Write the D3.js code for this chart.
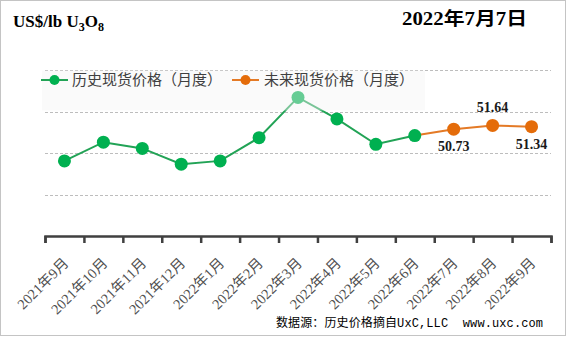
<!DOCTYPE html>
<html>
<head>
<meta charset="utf-8">
<script src="https://cdn.jsdelivr.net/npm/d3@7"></script>
<style>
  html, body { margin: 0; padding: 0; background: #fff; }
  svg { display: block; }
</style>
</head>
<body>
<svg id="chart" width="567" height="337"></svg>
<script>
// months on the x axis
const months = ["2021年9月", "2021年10月", "2021年11月", "2021年12月", "2022年1月", "2022年2月",
    "2022年3月", "2022年4月", "2022年5月", "2022年6月", "2022年7月", "2022年8月", "2022年9月"];

// historical monthly spot (US$/lb)
const histValues = [43.1, 47.6, 46.1, 42.3, 43.1, 48.7, 58.4, 53.2, 47.1, 49.2];
// future monthly spot
const futValues = [50.73, 51.64, 51.34];
// where each future label sits
const futLabelPos = ["below", "above", "below"];

const yTicks = [25, 35, 45, 55, 65];
const legendNames = ["历史现货价格（月度）", "未来现货价格（月度）"];

const green = "#00b050";
const greenLine = "#22a356";
const orange = "#e46c0a";
const orangeLine = "#e47a26";

const svg = d3.select("#chart");
const W = 567, H = 337;

const marginLeft = 45;
const marginRight = 16;
const plotTop = 70;
const plotBottom = 236;

const x = d3.scaleBand()
    .domain(months)
    .range([marginLeft, W - marginRight])
    .padding(0);

const y = d3.scaleLinear()
    .domain([d3.min(yTicks), d3.max(yTicks)])
    .range([plotBottom, plotTop]);

// boundary ticks: linear scale over the band index
const xi = d3.scaleLinear()
    .domain([0, months.length])
    .range([marginLeft, W - marginRight]);

// border
svg.append("rect")
    .attr("x", 0.5).attr("y", 0.5)
    .attr("width", W - 2).attr("height", H - 2)
    .attr("fill", "#fff")
    .attr("stroke", "#c4c4c4");

// gridlines
svg.append("g")
    .selectAll("line")
    .data(yTicks.slice(1))
    .join("line")
    .attr("x1", marginLeft)
    .attr("x2", W - marginRight)
    .attr("y1", d => Math.round(y(d)) + 0.5)
    .attr("y2", d => Math.round(y(d)) + 0.5)
    .attr("stroke", "#bdbdbd")
    .attr("stroke-width", 1)
    .attr("stroke-dasharray", "3,2");

// series
const histData = histValues.map((v, i) => ({m: months[i], v: v}));
const futData = futValues.map((v, i) => ({m: months[histValues.length + i], v: v}));
const futLine = [histData[histData.length - 1]].concat(futData);

const line = d3.line()
    .x(d => x(d.m) + x.bandwidth() / 2)
    .y(d => y(d.v));

svg.append("path")
    .attr("d", line(histData))
    .attr("fill", "none")
    .attr("stroke", greenLine)
    .attr("stroke-width", 2);

svg.append("path")
    .attr("d", line(futLine))
    .attr("fill", "none")
    .attr("stroke", orangeLine)
    .attr("stroke-width", 2);

svg.append("g")
    .selectAll("circle")
    .data(histData)
    .join("circle")
    .attr("cx", d => x(d.m) + x.bandwidth() / 2)
    .attr("cy", d => y(d.v))
    .attr("r", 6.5)
    .attr("fill", green);

svg.append("g")
    .selectAll("circle")
    .data(futData)
    .join("circle")
    .attr("cx", d => x(d.m) + x.bandwidth() / 2)
    .attr("cy", d => y(d.v))
    .attr("r", 6.5)
    .attr("fill", orange);

// value labels on the future points
svg.append("g")
    .selectAll("text")
    .data(futData)
    .join("text")
    .attr("x", d => x(d.m) + x.bandwidth() / 2)
    .attr("y", (d, i) => futLabelPos[i] === "above" ? y(d.v) - 13 : y(d.v) + 22)
    .attr("text-anchor", "middle")
    .attr("font-family", "'Liberation Serif', 'Times New Roman', serif")
    .attr("font-weight", "bold")
    .attr("font-size", 14)
    .attr("fill", "#1a1a1a")
    .text(d => d.v.toFixed(2));

// legend (semi transparent panel over the plot)
const legend = svg.append("g");
legend.append("rect")
    .attr("x", 42).attr("y", plotTop + 0.5)
    .attr("width", 383).attr("height", 40)
    .attr("fill", "#f2f2f2")
    .attr("opacity", 0.42);

const legendItems = [
    {name: legendNames[0], x0: 41, color: green, lineColor: greenLine, tx: 72},
    {name: legendNames[1], x0: 232, color: orange, lineColor: orangeLine, tx: 264}
];
const ly = 80;
legendItems.forEach(it => {
    legend.append("line")
        .attr("x1", it.x0).attr("x2", it.x0 + 27)
        .attr("y1", ly).attr("y2", ly)
        .attr("stroke", it.lineColor)
        .attr("stroke-width", 2);
    legend.append("circle")
        .attr("cx", it.x0 + 13.5).attr("cy", ly)
        .attr("r", 5)
        .attr("fill", it.color);
    legend.append("text")
        .attr("x", it.tx).attr("y", ly)
        .attr("dy", "0.35em")
        .attr("font-family", "'Noto Sans CJK SC', sans-serif")
        .attr("font-size", 15)
        .attr("fill", "#404040")
        .text(it.name);
});

// x axis: baseline with boundary ticks
const tickAxis = d3.axisBottom(xi)
    .tickValues(d3.range(months.length + 1))
    .tickFormat("")
    .tickSize(7)
    .tickSizeOuter(7);

const ax = svg.append("g")
    .attr("transform", `translate(0,${plotBottom})`)
    .call(tickAxis);
ax.select(".domain").attr("stroke", "#404040").attr("stroke-width", 2.5);
ax.selectAll(".tick line").attr("stroke", "#404040").attr("stroke-width", 2.5);

// month labels, rotated
const labelAxis = d3.axisBottom(x).tickSize(0).tickPadding(0);
const lx = svg.append("g")
    .attr("transform", `translate(0,${plotBottom})`)
    .call(labelAxis);
lx.select(".domain").remove();
lx.selectAll(".tick text")
    .attr("font-family", "'Liberation Serif', 'Noto Sans CJK SC', serif")
    .attr("font-size", 14.5)
    .attr("fill", "#505050")
    .attr("text-anchor", "end")
    .attr("y", 0)
    .attr("dy", 0)
    .attr("transform", "translate(5,28) rotate(-45)");

// title
const title = svg.append("text")
    .attr("x", 13).attr("y", 27)
    .attr("font-family", "'Liberation Serif', 'Times New Roman', serif")
    .attr("font-weight", "bold")
    .attr("font-size", 17)
    .attr("fill", "#000");
title.append("tspan").text("US$/lb U");
title.append("tspan").attr("font-size", 12).attr("dy", 4).text("3");
title.append("tspan").attr("dy", -4).text("O");
title.append("tspan").attr("font-size", 12).attr("dy", 4).text("8");

// date
svg.append("text")
    .attr("x", 402).attr("y", 25)
    .attr("font-family", "'Liberation Serif', 'Noto Sans CJK SC', serif")
    .attr("font-weight", "bold")
    .attr("font-size", 18)
    .attr("fill", "#000")
    .attr("textLength", 125)
    .attr("lengthAdjust", "spacingAndGlyphs")
    .text("2022年7月7日");

// source note
svg.append("text")
    .attr("x", 543).attr("y", 327)
    .attr("text-anchor", "end")
    .attr("font-family", "'Liberation Mono', 'Noto Sans CJK SC', monospace")
    .attr("font-size", 12)
    .attr("fill", "#000")
    .attr("textLength", 267)
    .attr("lengthAdjust", "spacing")
    .style("white-space", "pre")
    .text("数据源：历史价格摘自UxC,LLC  www.uxc.com");
</script>
</body>
</html>
